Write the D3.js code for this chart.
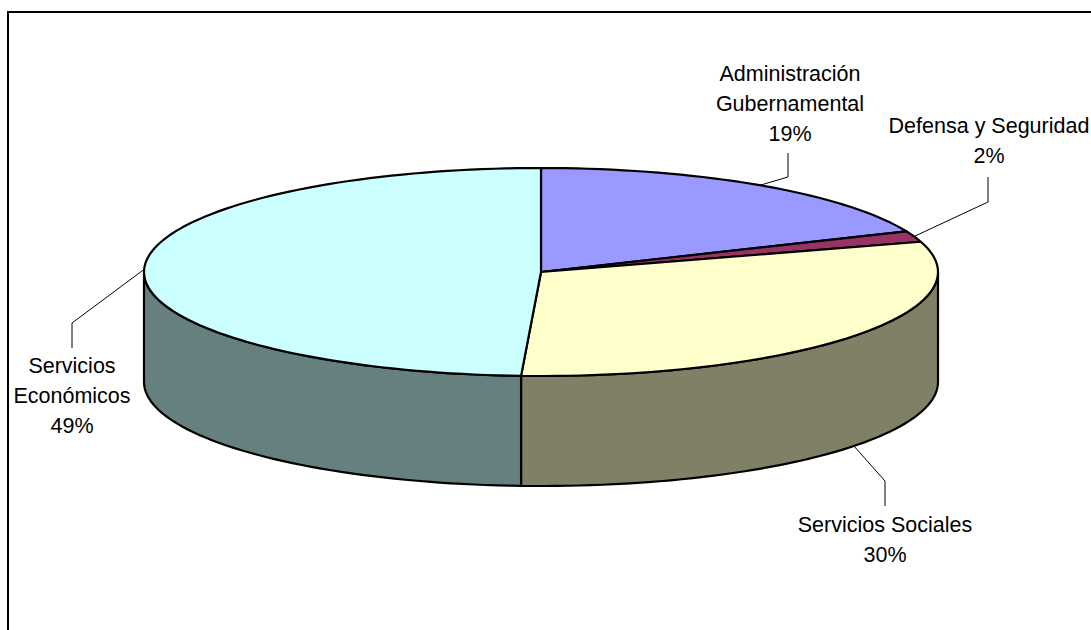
<!DOCTYPE html>
<html>
<head>
<meta charset="utf-8">
<script src="https://cdn.jsdelivr.net/npm/d3@7"></script>
<style>
html, body { margin:0; padding:0; background:#fff; overflow:hidden; }
text { font-family:"Liberation Sans", Arial, sans-serif; font-size:21.5px; fill:#000; text-anchor:middle; }
</style>
</head>
<body>
<div id="chart"></div>
<script>
var categories = [["Administración","Gubernamental"],["Defensa y Seguridad"],["Servicios Sociales"],["Servicios","Económicos"]];
var values = [18.6, 1.7, 30.5, 49.2]; // read from the slice edges
var percentLabels = ["19%","2%","30%","49%"];
var topColors = ["#9999ff","#993366","#ffffcc","#ccffff"];
var sideColors = ["#666699","#4d1a33","#808066","#668080"];
// where each label sits and the elbow of its leader
var labelPos = [[790,81],[989,133],[885,532],[72,373]];
var elbows = [[788,177],[988,202],[885,481],[72,323]];
var leaderEnd = [153,177,506,348];

var width = 1091, height = 630;
var cx = 541, cy = 272, rx = 397, ry = 104, depth = 110;
var lineHeight = 30;

var svg = d3.select("#chart").append("svg").attr("width",width).attr("height",height).style("display","block");

// chart frame, only top and left show in the picture
svg.append("path").attr("d","M8,630V12H1091").attr("fill","none").attr("stroke","#000").attr("stroke-width",2);

var arcs = d3.pie().sort(null).startAngle(0).endAngle(2*Math.PI)(values);

// angle on the pie (clockwise from 12 o'clock) to a point on the ellipse
function px(a){ return cx + rx*Math.sin(a); }
function py(a){ return cy - ry*Math.cos(a); }

function rim(a0,a1,off){
	var n = Math.max(2, Math.ceil(Math.abs(a1-a0)/0.03));
	return d3.range(n+1).map(function(i){
		var a = a0 + (a1-a0)*i/n;
		return [px(a), py(a)+off];
	});
}

var line = d3.line();

// side walls, only the front half of the rim is visible
var front0 = Math.PI/2, front1 = 3*Math.PI/2;
svg.selectAll("path.side")
	.data(arcs.filter(function(d){ return d.endAngle>front0 && d.startAngle<front1; }))
	.enter()
	.append("path")
	.attr("class","side")
	.attr("d",function(d){
		var a0 = Math.max(d.startAngle,front0), a1 = Math.min(d.endAngle,front1);
		return line(rim(a0,a1,0).concat(rim(a1,a0,depth)))+"Z";
	})
	.attr("fill",function(d){ return sideColors[d.index]; })
	.attr("stroke","#000").attr("stroke-width",2.2).attr("stroke-linejoin","round");

// top slices
svg.selectAll("path.top")
	.data(arcs)
	.enter()
	.append("path")
	.attr("class","top")
	.attr("d",function(d){
		return line([[cx,cy]].concat(rim(d.startAngle,d.endAngle,0)))+"Z";
	})
	.attr("fill",function(d){ return topColors[d.index]; })
	.attr("stroke","#000").attr("stroke-width",2.2).attr("stroke-linejoin","round");

// leaders start at the middle of each slice on the rim
svg.selectAll("path.leader")
	.data(arcs)
	.enter()
	.append("path")
	.attr("class","leader")
	.attr("d",function(d){
		var mid = (d.startAngle+d.endAngle)/2;
		var front = mid>front0 && mid<front1 && d.index==2;
		var start = [px(mid), py(mid)+(front?depth:0)];
		var e = elbows[d.index];
		return line([start,e,[e[0],leaderEnd[d.index]]]);
	})
	.attr("fill","none").attr("stroke","#000").attr("stroke-width",1);

// labels
var labels = svg.selectAll("text.label")
	.data(arcs)
	.enter()
	.append("text")
	.attr("class","label")
	.attr("x",function(d){ return labelPos[d.index][0]; })
	.attr("y",function(d){ return labelPos[d.index][1]; });

labels.each(function(d){
	var t = d3.select(this);
	var rows = categories[d.index].concat([percentLabels[d.index]]);
	rows.forEach(function(r,i){
		t.append("tspan").attr("x",labelPos[d.index][0]).attr("dy",i==0?0:lineHeight).text(r);
	});
});
</script>
</body>
</html>
